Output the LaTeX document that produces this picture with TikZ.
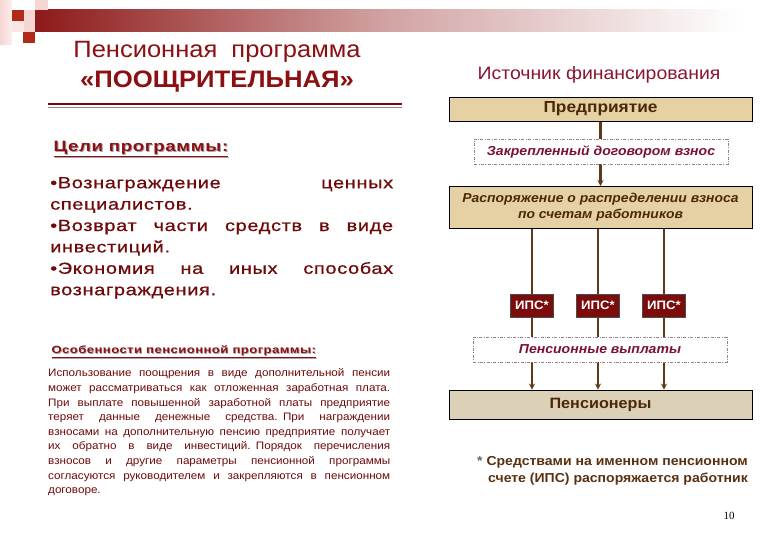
\documentclass[tikz,border=0pt]{standalone}
\usepackage{fontspec}
\setmainfont[FakeStretch=1.08]{Liberation Sans}
\newfontfamily\widefont[FakeStretch=1.25,LetterSpace=4]{Liberation Sans}
\newfontfamily\bulletfont[FakeStretch=1.25,LetterSpace=4,FakeBold=0.7]{Liberation Sans}
\newfontfamily\pagenumfont{Liberation Serif}
\usetikzlibrary{arrows.meta}
\newcommand{\justline}[2]{\leavevmode\hbox to #1{\spaceskip=0.25em plus 1fil\relax #2}}
\definecolor{titlered}{HTML}{8C0F12}
\definecolor{srcred}{HTML}{8A1630}
\definecolor{boxtan}{HTML}{E6D1A4}
\definecolor{boxgray}{HTML}{DCD1B8}
\definecolor{boxtext}{HTML}{4A2808}
\definecolor{italred}{HTML}{7A1238}
\definecolor{arrbrown}{HTML}{5E3A18}
\definecolor{ipsred}{HTML}{7C0C0C}
\definecolor{lefttext}{HTML}{6E0A0A}
\definecolor{noteb}{HTML}{5A3010}
\definecolor{sqdark}{HTML}{B02A18}
\definecolor{sqpink}{HTML}{F6D6D2}
\definecolor{barred}{HTML}{8E1A1A}
\definecolor{dashgray}{HTML}{9A8080}
\pgfdeclarelayer{bg}
\pgfsetlayers{bg,main}
\begin{document}
\begin{tikzpicture}[x=1pt,y=-1pt,
  tanbox/.style={draw=black,line width=0.9pt,fill=boxtan,minimum width=303pt,inner sep=0pt,align=center,text=boxtext},
  dashbox/.style={draw=dashgray,dash pattern=on 3pt off 1.5pt on 0.8pt off 1.5pt,line width=0.7pt,fill=white,minimum width=254pt,minimum height=25pt,inner sep=0pt,text=italred,font=\bfseries\itshape\fontsize{13}{15}\selectfont},
  ipsbox/.style={draw=black!70,fill=ipsred,text=white,minimum width=43pt,minimum height=23pt,inner sep=0pt,font=\bfseries\fontsize{12.2}{14}\selectfont},
  arr/.style={draw=arrbrown,line width=2.2pt,-{Stealth[length=6pt,width=6pt]}},
  headsh/.style={anchor=west,text=black!35},
  head/.style={anchor=west,text=titlered}
]
\begin{pgfonlayer}{bg}
\fill[white] (0,0) rectangle (780,540);
\end{pgfonlayer}
\useasboundingbox (0,0) rectangle (780,540);
% decoration
\shade[left color=barred,right color=white,middle color=barred!40!white] (35,10) rectangle (740,32);
\shade[left color=sqpink,right color=sqpink!40!white] (0,0) rectangle (12,45);
\fill[sqpink] (35,0) rectangle (48,10);
\fill[sqpink] (24,10) rectangle (35,32);
\fill[sqpink!60!white] (12,21) rectangle (24,32);
\fill[sqdark] (12,10) rectangle (24,21);
\fill[sqdark] (23,32) rectangle (35,43);
% titles
\node[font=\fontsize{23.6}{27}\selectfont,text=titlered] (t1) at (217,52) {Пенсионная\ \ программа};
\node[font=\bfseries\fontsize{23.8}{27}\selectfont,text=titlered] (t2) at (217,82) {«ПООЩРИТЕЛЬНАЯ»};
\draw[titlered!80!black,line width=1.6pt] (48,104) -- (402,104);
\draw[dashgray,line width=0.6pt] (48,107.5) -- (402,107.5);
% right column
\node[font=\fontsize{18}{21}\selectfont,text=srcred] (src) at (599,75) {Источник финансирования};
\node[tanbox,minimum height=24pt,font=\bfseries\fontsize{16}{19}\selectfont] (ent) at (600.5,109) {Предприятие};
\node[dashbox] (contr) at (601,151.5) {Закрепленный договором взнос};
\node[tanbox,minimum height=42pt,font=\bfseries\itshape\fontsize{12.9}{16}\selectfont] (rasp) at (600.5,207.5) {Распоряжение о распределении взноса\\по счетам работников};
\node[ipsbox] (i1) at (532,305.5) {ИПС*};
\node[ipsbox] (i2) at (598,305.5) {ИПС*};
\node[ipsbox] (i3) at (664,305.5) {ИПС*};
\node[dashbox] (pay) at (600,349.5) {Пенсионные выплаты};
\node[tanbox,fill=boxgray,minimum height=29pt,font=\bfseries\fontsize{15}{18}\selectfont] (pens) at (600.5,404.5) {Пенсионеры};
\begin{pgfonlayer}{bg}
\draw[arr] (ent.south) -- (rasp.north);
\draw[arr] (i1 |- rasp.south) -- (i1 |- pens.north);
\draw[arr] (i2 |- rasp.south) -- (i2 |- pens.north);
\draw[arr] (i3 |- rasp.south) -- (i3 |- pens.north);
\end{pgfonlayer}
\node[anchor=north east,align=right,inner sep=0pt,font=\bfseries\fontsize{13}{17}\selectfont,text=noteb] (note) at (748,456) {{\color{black!60}*} Средствами на именном пенсионном\\счете (ИПС) распоряжается работник};
\node[font=\pagenumfont\fontsize{11}{13}\selectfont] (pg) at (729,516) {10};
% left column
\node[headsh,font=\widefont\bfseries\fontsize{15}{18}\selectfont] (goalsh) at (51,150) {\underline{Цели программы:}};
\node[head,font=\widefont\bfseries\fontsize{15}{18}\selectfont] (goal) at (50,149) {\underline{Цели программы:}};
\node[anchor=north west,text width=343pt,align=left,inner sep=0pt,text=lefttext,font=\bulletfont\fontsize{16}{21.4}\selectfont] (goals) at (50,177) {\justline{343pt}{•Вознаграждение ценных}\\
специалистов.\\
\justline{343pt}{•Возврат части средств в виде}\\
инвестиций.\\
\justline{343pt}{•Экономия на иных способах}\\
вознаграждения.};
\node[headsh,font=\widefont\bfseries\fontsize{10.5}{13}\selectfont] (featsh) at (48.8,352.8) {\underline{Особенности пенсионной программы:}};
\node[head,font=\widefont\bfseries\fontsize{10.5}{13}\selectfont] (feat) at (48,352) {\underline{Особенности пенсионной программы:}};
\node[anchor=north west,text width=342pt,align=left,inner sep=0pt,text=lefttext,font=\fontsize{10.8}{14.65}\selectfont] (para) at (48,368.5) {\justline{342pt}{Использование поощрения в виде дополнительной пенсии}\\
\justline{342pt}{может рассматриваться как отложенная заработная плата.}\\
\justline{342pt}{При выплате повышенной заработной платы предприятие}\\
\justline{342pt}{теряет данные денежные средства. При награждении}\\
\justline{342pt}{взносами на дополнительную пенсию предприятие получает}\\
\justline{342pt}{их обратно в виде инвестиций. Порядок перечисления}\\
\justline{342pt}{взносов и другие параметры пенсионной программы}\\
\justline{342pt}{согласуются руководителем и закрепляются в пенсионном}\\
договоре.};
\end{tikzpicture}
\end{document}
